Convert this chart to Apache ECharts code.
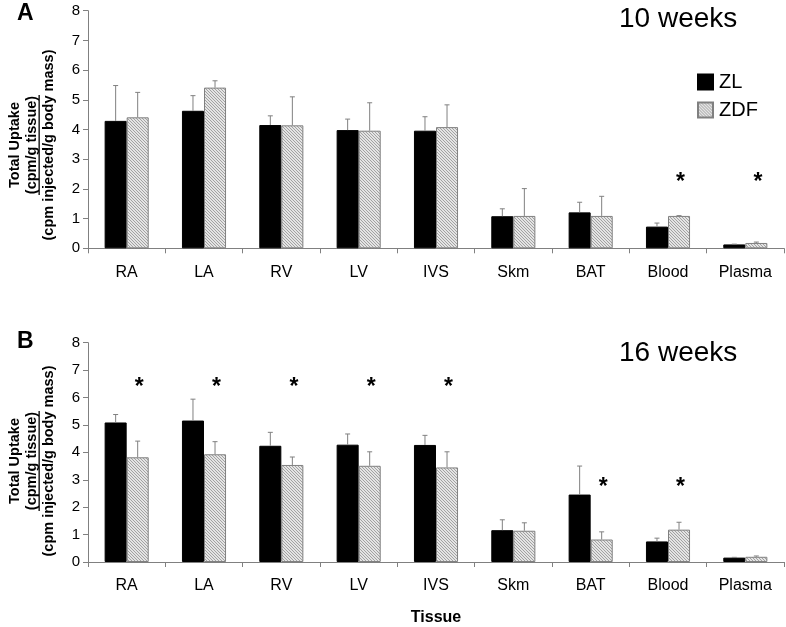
<!DOCTYPE html>
<html>
<head>
<meta charset="utf-8">
<script src="https://cdn.jsdelivr.net/npm/echarts@6/dist/echarts.min.js"></script>
<style>
html,body{margin:0;padding:0;background:#fff;}
#c{width:786px;height:627px;}
</style>
</head>
<body>
<div id="c"></div>
<script>
// ---- data ----
var categories = ['RA','LA','RV','LV','IVS','Skm','BAT','Blood','Plasma'];
var yTicks = [0,1,2,3,4,5,6,7,8];

var zl10 = [4.29,4.63,4.15,3.98,3.96,1.08,1.21,0.73,0.13];
var zl10Err = [5.48,5.14,4.46,4.35,4.43,1.33,1.55,0.85,0.14];
var zdf10 = [4.41,5.41,4.14,3.96,4.08,1.09,1.09,1.09,0.18];
var zdf10Err = [5.25,5.64,5.10,4.90,4.83,2.01,1.75,1.10,0.21];
var star10 = [null,null,null,null,null,null,null,2.35,2.35];

var zl16 = [5.09,5.16,4.24,4.28,4.27,1.16,2.46,0.75,0.16];
var zl16Err = [5.38,5.94,4.73,4.67,4.62,1.54,3.50,0.87,0.17];
var zdf16 = [3.82,3.93,3.54,3.51,3.45,1.14,0.82,1.18,0.19];
var zdf16Err = [4.41,4.39,3.83,4.02,4.02,1.43,1.10,1.45,0.22];
var star16 = [6.52,6.52,6.52,6.52,6.52,null,2.86,2.86,null];

// ---- styles ----
var FONT = 'Liberation Sans, Arial, sans-serif';
var BAR_FRAC = 0.285;
var AXIS_GREY = '#808080';

var pat = document.createElement('canvas');
pat.width = 3; pat.height = 3;
var pc = pat.getContext('2d');
pc.fillStyle = '#e4e4e4';
pc.fillRect(0,0,3,3);
pc.fillStyle = '#a2a2a2';
for (var i = 0; i < 3; i++) {
  pc.fillRect(i, i, 1, 1);
}
var hatch = {image: pat, repeat: 'repeat'};

var chart = echarts.init(document.getElementById('c'), null, {renderer: 'canvas'});

function errSeries(name, values, errs, side, xi, yi) {
  var data = values.map(function (v, i) { return [i, v, errs[i]]; });
  return {
    type: 'custom', name: name + '_err', xAxisIndex: xi, yAxisIndex: yi, z: 5,
    silent: true, legendHoverLink: false,
    data: data,
    renderItem: function (params, api) {
      var band = api.size([1, 0])[0];
      var bw = band * BAR_FRAC;
      var c0 = api.coord([api.value(0), api.value(1)]);
      var c1 = api.coord([api.value(0), api.value(2)]);
      var x = c0[0] + side * bw / 2;
      return {
        type: 'group',
        children: [
          {type: 'line', shape: {x1: x, y1: c0[1], x2: x, y2: c1[1]}, style: {stroke: AXIS_GREY, lineWidth: 1}},
          {type: 'line', shape: {x1: x - 2.5, y1: c1[1], x2: x + 2.5, y2: c1[1]}, style: {stroke: AXIS_GREY, lineWidth: 1}}
        ]
      };
    }
  };
}

function starSeries(values, xi, yi) {
  var data = [];
  values.forEach(function (v, i) { if (v != null) data.push([i, v]); });
  return {
    type: 'custom', name: 'stars', xAxisIndex: xi, yAxisIndex: yi, z: 6, silent: true,
    data: data,
    renderItem: function (params, api) {
      var band = api.size([1, 0])[0];
      var bw = band * BAR_FRAC;
      var c = api.coord([api.value(0), api.value(1)]);
      return {
        type: 'text',
        style: {
          text: '*', x: c[0] + bw / 2 + 1.5, y: c[1] + 4,
          align: 'center', verticalAlign: 'middle',
          font: 'bold 23px ' + FONT, fill: '#000'
        }
      };
    }
  };
}

function xAx(gi, withName) {
  var o = {
    type: 'category', gridIndex: gi, data: categories,
    axisLine: {lineStyle: {color: AXIS_GREY, width: 1}},
    axisTick: {show: true, alignWithLabel: false, length: 5, lineStyle: {color: AXIS_GREY}},
    axisLabel: {color: '#000', fontSize: 16, fontFamily: FONT, margin: 16, interval: 0}
  };
  if (withName) {
    o.name = 'Tissue';
    o.nameLocation = 'middle';
    o.nameGap = 48;
    o.nameTextStyle = {color: '#000', fontSize: 16, fontWeight: 'bold', fontFamily: FONT};
  }
  return o;
}
function yAx(gi) {
  return {
    type: 'value', gridIndex: gi, min: yTicks[0], max: yTicks[yTicks.length - 1], interval: 1,
    axisLine: {show: true, lineStyle: {color: AXIS_GREY, width: 1}},
    axisTick: {show: true, length: 5, lineStyle: {color: AXIS_GREY}},
    splitLine: {show: false},
    axisLabel: {color: '#000', fontSize: 15, fontFamily: FONT, margin: 8}
  };
}

function barSeries(name, values, xi, yi, color, border) {
  return {
    type: 'bar', name: name, xAxisIndex: xi, yAxisIndex: yi,
    data: values, barWidth: (BAR_FRAC * 100) + '%', barGap: '0%',
    itemStyle: {color: color, borderColor: border, borderWidth: 1},
    emphasis: {disabled: true}
  };
}

function yTitle(cx, cy) {
  var lines = ['Total Uptake', '(cpm/g tissue)', '(cpm injected/g body mass)'];
  var xs = [cx - 17, cx, cx + 17];
  var els = lines.map(function (t, k) {
    return {
      type: 'text', x: xs[k], y: cy, rotation: Math.PI / 2,
      style: {text: t, align: 'center', verticalAlign: 'middle', font: 'bold 14.5px ' + FONT, fill: '#000'}
    };
  });
  els.push({
    type: 'rect', shape: {x: cx + 6.5, y: cy - 50, width: 1.3, height: 100},
    style: {fill: '#000'}
  });
  return els;
}

var option = {
  backgroundColor: '#fff',
  animation: false,
  grid: [
    {left: 88, right: 2, top: 10.7, height: 237.6},
    {left: 88, right: 2, top: 342.7, height: 228}
  ],
  xAxis: [xAx(0, false), xAx(1, true)],
  yAxis: [yAx(0), yAx(1)],
  legend: {
    data: ['ZL', 'ZDF'], orient: 'vertical', left: 697, top: 72, padding: 0,
    itemWidth: 15, itemHeight: 15, itemGap: 8, icon: 'rect',
    textStyle: {color: '#000', fontSize: 20, fontFamily: FONT, padding: [0, 0, 0, 1]},
    selectedMode: false
  },
  graphic: [
    {type: 'text', left: 17, top: 2, style: {text: 'A', font: 'bold 23px ' + FONT, fill: '#000'}},
    {type: 'text', left: 17, top: 330, style: {text: 'B', font: 'bold 23px ' + FONT, fill: '#000'}},
    {type: 'text', left: 619, top: 5, style: {text: '10 weeks', font: '28px ' + FONT, fill: '#000'}},
    {type: 'text', left: 619, top: 339, style: {text: '16 weeks', font: '28px ' + FONT, fill: '#000'}}
  ].concat(yTitle(32, 145)).concat(yTitle(32, 461)),
  series: [
    barSeries('ZL', zl10, 0, 0, '#000', '#000'),
    barSeries('ZDF', zdf10, 0, 0, hatch, AXIS_GREY),
    errSeries('ZL', zl10, zl10Err, -1, 0, 0),
    errSeries('ZDF', zdf10, zdf10Err, 1, 0, 0),
    starSeries(star10, 0, 0),
    barSeries('ZL', zl16, 1, 1, '#000', '#000'),
    barSeries('ZDF', zdf16, 1, 1, hatch, AXIS_GREY),
    errSeries('ZL', zl16, zl16Err, -1, 1, 1),
    errSeries('ZDF', zdf16, zdf16Err, 1, 1, 1),
    starSeries(star16, 1, 1)
  ]
};
chart.setOption(option);
</script>
</body>
</html>
